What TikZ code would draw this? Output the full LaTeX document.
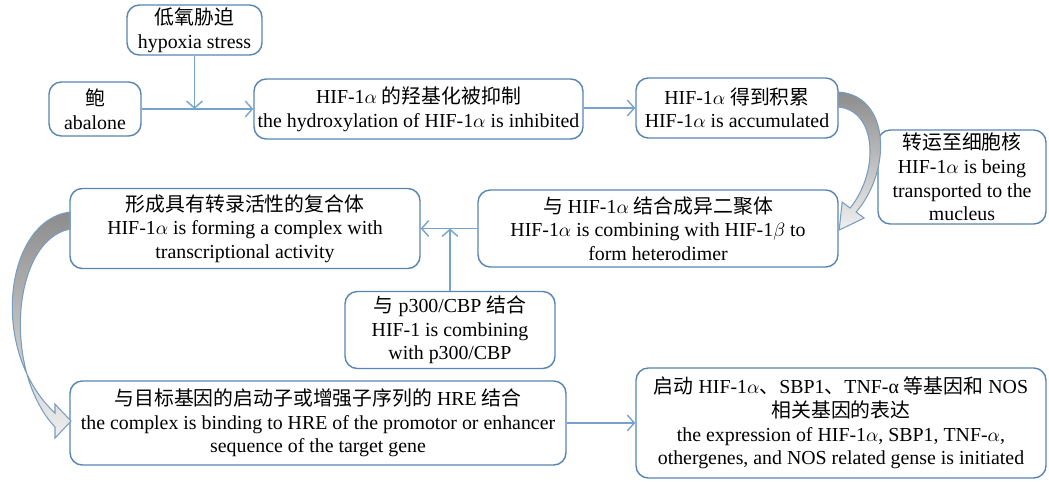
\documentclass[tikz,border=0pt]{standalone}
\usepackage{fontspec}
\setmainfont{Liberation Serif}
\newfontfamily\cjk{Noto Sans CJK SC}
\usepackage{xcolor}
\usepackage{tikz}
\usetikzlibrary{arrows.meta,positioning,calc}
\definecolor{boxblue}{RGB}{88,132,178}
\definecolor{linkblue}{RGB}{118,163,206}
\newcommand{\zh}[1]{{\cjk #1}}

\begin{document}
\begin{tikzpicture}[
    box/.style = {draw=boxblue, rounded corners=7pt, line width=0.8pt, align=center, inner sep=1pt, font=\fontsize{11.3}{13.4}\selectfont},
    link/.style = {draw=linkblue, line width=0.8pt, -{Straight Barb[length=4pt, width=9pt]}},
    bend_arrow/.style = {draw=boxblue!80, line width=0.6pt, top color=gray!90, bottom color=gray!12}
]
    \useasboundingbox (0,0) rectangle (20.98,-9.64);

    \node[box, minimum width=2.7cm, minimum height=1.0cm] (hyp) at (3.89,-0.6) {\zh{低氧胁迫}\\hypoxia stress};
    \node[box, minimum width=1.84cm, minimum height=1.08cm] (aba) at (1.9,-2.18) {\zh{鲍}\\abalone};
    \node[box, minimum width=6.58cm, minimum height=1.2cm] (inh) at (8.37,-2.18) {HIF-1$\alpha$ \zh{的羟基化被抑制}\\the hydroxylation of HIF-1$\alpha$ is inhibited};
    \node[box, minimum width=4.04cm, minimum height=1.2cm] (acc) at (14.74,-2.16) {HIF-1$\alpha$ \zh{得到积累}\\HIF-1$\alpha$ is accumulated};
    \node[box, minimum width=3.36cm, minimum height=1.88cm] (nuc) at (19.24,-3.54) {\zh{转运至细胞核}\\HIF-1$\alpha$ is being\\transported to the\\mucleus};
    \node[box, minimum width=7.2cm, minimum height=1.54cm] (het) at (13.16,-4.57) {\zh{与} HIF-1$\alpha$ \zh{结合成异二聚体}\\HIF-1$\alpha$ is combining with HIF-1$\beta$ to\\form heterodimer};
    \node[box, minimum width=7.0cm, minimum height=1.6cm] (cpx) at (4.9,-4.57) {\zh{形成具有转录活性的复合体}\\HIF-1$\alpha$ is forming a complex with\\transcriptional activity};
    \node[box, minimum width=4.2cm, minimum height=1.54cm] (p300) at (9.0,-6.6) {\zh{与} p300/CBP \zh{结合}\\HIF-1 is combining\\with p300/CBP};
    \node[box, minimum width=9.92cm, minimum height=1.68cm] (hre) at (6.36,-8.46) {\zh{与目标基因的启动子或增强子序列的} HRE \zh{结合}\\the complex is binding to HRE of the promotor or enhancer\\sequence of the target gene};
    \node[box, minimum width=8.2cm, minimum height=2.2cm] (exp) at (16.82,-8.46) {\zh{启动} HIF-1$\alpha$\zh{、}SBP1\zh{、}TNF-α \zh{等基因和} NOS\\\zh{相关基因的表达}\\the expression of HIF-1$\alpha$, SBP1, TNF-$\alpha$,\\othergenes, and NOS related gense is initiated};

    \coordinate (jn) at (hyp.south |- aba.east);
    \draw[link] (aba) -- (inh);
    \draw[link] (hyp) -- (jn);
    \draw[link] (inh.east |- acc.west) -- (acc);
    \draw[link] (het) -- (cpx);
    \draw[link] (p300) -- (p300 |- cpx.east);
    \draw[link] (hre) -- (exp);

    \begin{scope}[x=0.02cm, y=-0.02cm]
        \shade[bend_arrow] (838,92) .. controls (890,95) and (892,170) .. (856,212) -- (864,218) -- (839,230) -- (842,202) -- (850,208) .. controls (880,170) and (876,110) .. (838,107) -- cycle;
        \shade[bend_arrow] (70,212) .. controls (5,220) and (-12,350) .. (55,413) -- (55,404) -- (71,421) -- (55,438) -- (55,427) .. controls (2,370) and (12,240) .. (70,229) -- cycle;
    \end{scope}
\end{tikzpicture}
\end{document}
